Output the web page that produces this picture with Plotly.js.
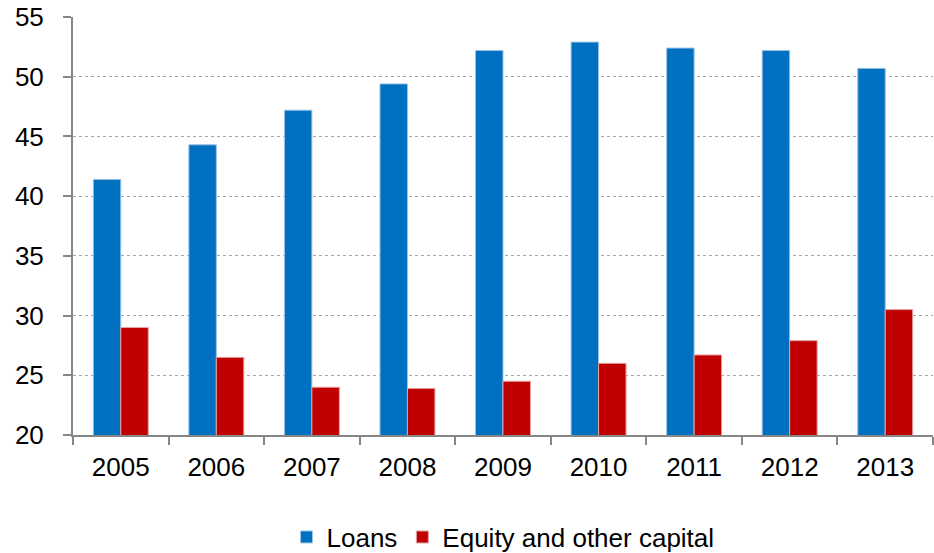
<!DOCTYPE html>
<html>
<head>
<meta charset="utf-8">
<script src="https://cdn.plot.ly/plotly-3.0.1.min.js"></script>
<style>html,body{margin:0;padding:0;background:#fff;}#chart{width:934px;height:553px;}</style>
</head>
<body>
<div id="chart"></div>
<script>
const years = ["2005","2006","2007","2008","2009","2010","2011","2012","2013"];
const loans = [41.4, 44.3, 47.2, 49.4, 52.2, 52.9, 52.4, 52.2, 50.7];
const equity = [29.0, 26.5, 24.0, 23.9, 24.5, 26.0, 26.7, 27.9, 30.5];
const yTicks = [20, 25, 30, 35, 40, 45, 50, 55];

const traces = [
  {type:"bar", name:"Loans", x:years, y:loans,
   marker:{color:"#0070C0", line:{color:"#9DC3E6", width:1}}},
  {type:"bar", name:"Equity and other capital", x:years, y:equity,
   marker:{color:"#C00000", line:{color:"#E8A0A0", width:1}}}
];

const layout = {
  width:934, height:553,
  margin:{l:73, r:1, t:17, b:118, autoexpand:false},
  paper_bgcolor:"#fff", plot_bgcolor:"#fff",
  font:{family:"Liberation Sans, Arial, sans-serif", size:26, color:"#000"},
  barmode:"group", bargap:0.425, bargroupgap:0,
  showlegend:true,
  legend:{orientation:"h", x:0.5, xanchor:"center", y:-0.188, yanchor:"top",
          font:{size:26}, itemwidth:30, traceorder:"normal"},
  xaxis:{type:"category", showline:true, linecolor:"#868686", linewidth:2,
         ticks:"outside", tickson:"boundaries", ticklen:8, tickcolor:"#868686", tickwidth:2,
         showgrid:false, tickfont:{size:26}, ticklabelstandoff:8},
  yaxis:{range:[20,55], tickvals:yTicks, showline:true, linecolor:"#868686", linewidth:2,
         ticks:"outside", ticklen:8, tickcolor:"#868686", tickwidth:2,
         showgrid:true, gridcolor:"#a6a6a6", griddash:"dot", gridwidth:1,
         zeroline:false, tickfont:{size:26}, ticklabelstandoff:14}
};

Plotly.newPlot("chart", traces, layout, {displayModeBar:false, staticPlot:true});
</script>
</body>
</html>
